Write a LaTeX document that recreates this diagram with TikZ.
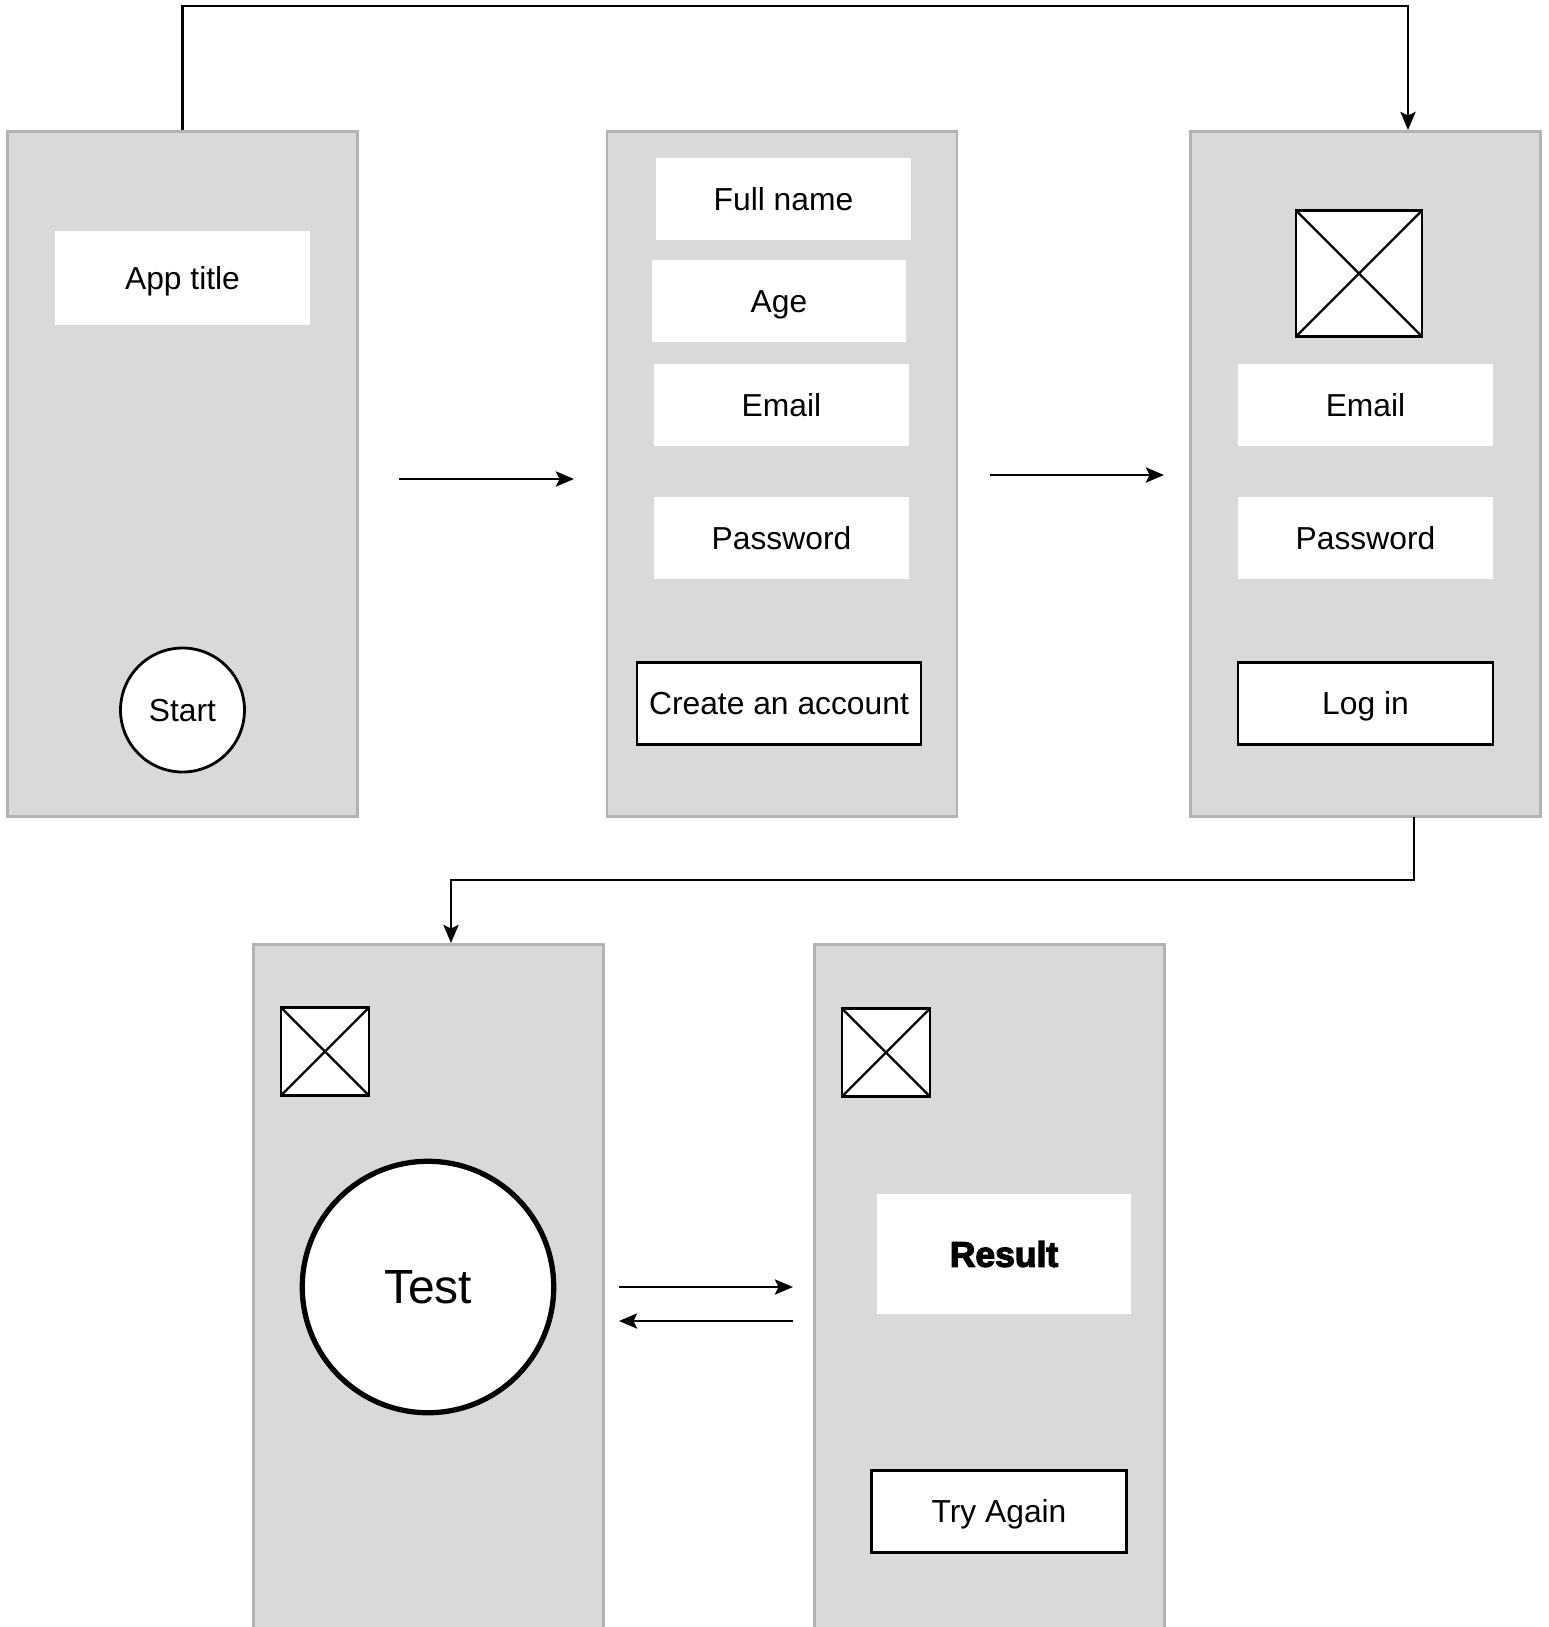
\documentclass[tikz,border=0pt]{standalone}
\usepackage{fontspec}
\setmainfont{Liberation Sans}
\newfontfamily\heavyfont[FakeBold=3.5]{Liberation Sans Bold}
\usetikzlibrary{arrows.meta}
\definecolor{screenfill}{HTML}{DAD9D8}
\definecolor{screenline}{HTML}{B3B3B3}

\begin{document}
\begin{tikzpicture}[x=0.02cm, y=-0.02cm, font=\fontsize{18.1}{22}\selectfont,
  screen/.style={rectangle,fill=screenfill,draw=screenline,line width=1.4pt,minimum width=7cm,minimum height=13.7cm,inner sep=0},
  field/.style={rectangle,fill=white,minimum width=5.1cm,minimum height=1.64cm,inner sep=0,text height=13pt,text depth=0pt},
  button/.style={field,draw=black,line width=1.6pt},
  picture/.style={rectangle,fill=white,draw=black,line width=1.6pt,inner sep=0,
    path picture={\draw[line width=1.3pt] (path picture bounding box.north west) -- (path picture bounding box.south east)
      (path picture bounding box.north east) -- (path picture bounding box.south west);}},
  link/.style={line width=1.6pt,-{Stealth[length=3.6mm,width=3mm,inset=0.7mm]}}]

\useasboundingbox (0,0) rectangle (1549,1627);

% first row
\draw (182.5,474) node[screen] (home) {};
\draw (182.5,278) node[field,minimum height=1.88cm] (title) {App title}
      (182.5,710) node[circle,fill=white,draw=black,line width=1.6pt,minimum size=2.48cm,inner sep=0,text height=13pt,text depth=0pt] (start) {Start};

\draw (782,474) node[screen] (signup) {};
\draw (783.5,199) node[field] (fullname) {Full name}
      (779,301) node[field] (age) {Age}
      (781.5,405) node[field] (email) {Email}
      (781.5,538) node[field] (password) {Password}
      (779,703.5) node[button,minimum width=5.68cm] (create) {Create an account};

\draw (1365.5,474) node[screen] (login) {};
\draw (1359,273.5) node[picture,minimum size=2.52cm] (photo) {}
      (1365.5,405) node[field] (loginemail) {Email}
      (1365.5,538) node[field] (loginpassword) {Password}
      (1365.5,703.5) node[button] (loginbutton) {Log in};

% second row
\draw (428.5,1287) node[screen] (test) {};
\draw (325,1051.5) node[picture,minimum size=1.76cm] (testphoto) {}
      (428,1287) node[circle,fill=white,draw=black,line width=3pt,minimum size=5.03cm,inner sep=0,font=\fontsize{27.3}{32}\selectfont] (testcircle) {Test};

\draw (989.5,1287) node[screen] (result) {};
\draw (886,1052.5) node[picture,minimum size=1.76cm] (resultphoto) {}
      (1004,1254) node[field,minimum height=2.4cm,text height=14.5pt,font=\fontsize{20.2}{24}\heavyfont] (score) {Result}
      (999,1511.5) node[button] (again) {Try Again};

% free ends
\coordinate (homeout) at (399,479);
\coordinate (signupin) at (574,479);
\coordinate (signupout) at (990,475);
\coordinate (loginin) at (1164,475);
\coordinate (logintop) at (1408,130);
\coordinate (loginbottom) at (1414,817);
\coordinate (testtop) at (451,943);
\coordinate (testout) at (619,1287);
\coordinate (resultin) at (793,1287);
\coordinate (resultout) at (793,1321);
\coordinate (testin) at (619,1321);

\draw[link] (home.north) |- (1408,6) -- (logintop);
\draw[link] (homeout) -- (signupin);
\draw[link] (signupout) -- (loginin);
\draw[link] (loginbottom) -- (1414,880) -- (451,880) -- (testtop);
\draw[link] (testout) -- (resultin);
\draw[link] (resultout) -- (testin);

\end{tikzpicture}
\end{document}
